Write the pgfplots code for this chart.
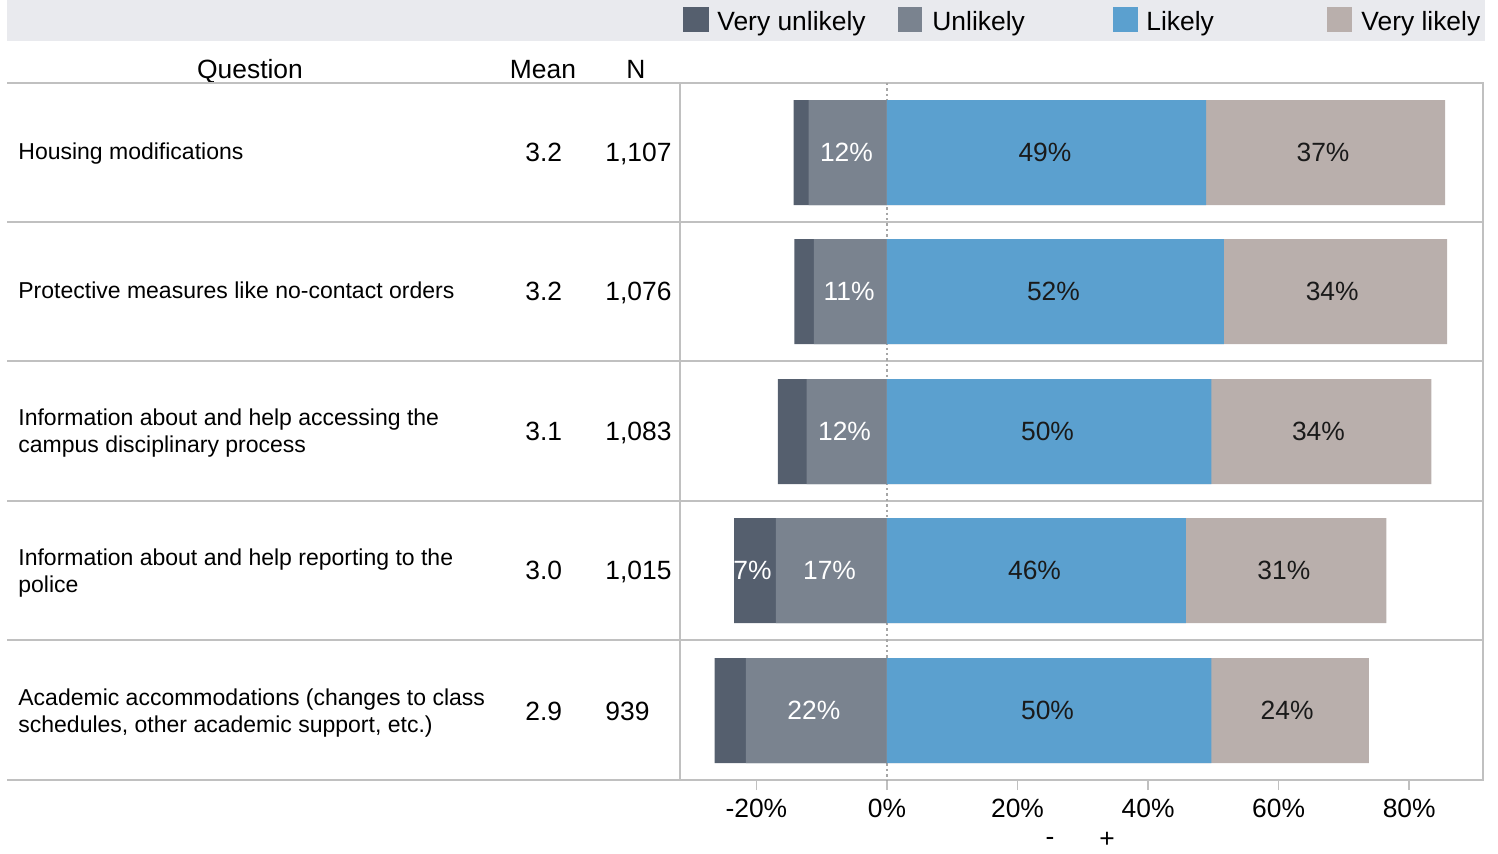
\documentclass[border=0pt]{standalone}
\usepackage{fontspec}
\setmainfont{Liberation Sans}
\usepackage{pgfplots}
\pgfplotsset{compat=1.18}
\usepackage{pgfplotstable}
\definecolor{cVU}{RGB}{85,95,110}
\definecolor{cU}{RGB}{122,131,143}
\definecolor{cL}{RGB}{91,160,207}
\definecolor{cVL}{RGB}{185,175,172}
\definecolor{band}{RGB}{233,234,238}
\definecolor{rulec}{RGB}{192,192,192}
\definecolor{dark}{RGB}{26,26,26}

\pgfplotstableread{
y VU U L VL
152.5 2.3 12.0 48.9 36.6
291.5 3.0 11.2 51.6 34.2
431.5 4.4 12.3 49.7 33.7
570.5 6.4 17.0 45.8 30.7
710.5 4.8 21.6 49.7 24.1
}\data

\newcommand{\fbig}{\fontsize{13.2}{16}\selectfont}
\newcommand{\fsm}{\fontsize{11.5}{13.5}\selectfont}

\begin{document}
\begin{tikzpicture}
\begin{scope}[x=0.5pt,y=-0.5pt]
\useasboundingbox (0,0) rectangle (1498,854);
% legend band
\fill[band] (7,0) rectangle (1485,41);
\fill[cVU] (683,7) rectangle (709,32);
\fill[cU] (898,7) rectangle (922,32);
\fill[cL] (1113,7) rectangle (1138,32);
\fill[cVL] (1327,7) rectangle (1352,32);
\node[anchor=base west,inner sep=0,font=\fbig] at (717,30.5) {Very unlikely};
\node[anchor=base west,inner sep=0,font=\fbig] at (932,30.5) {Unlikely};
\node[anchor=base west,inner sep=0,font=\fbig] at (1146,30.5) {Likely};
\node[anchor=base west,inner sep=0,font=\fbig] at (1361,30.5) {Very likely};
% headers
\node[anchor=base,inner sep=0,font=\fbig] at (250,78.5) {Question};
\node[anchor=base,inner sep=0,font=\fbig] at (543,78.5) {Mean};
\node[anchor=base,inner sep=0,font=\fbig] at (636,78.5) {N};
% rules
\draw[rulec,line width=1pt] (7,83) -- (1483,83);
\foreach \yy in {222,361,501,640} {\draw[rulec,line width=1pt] (7,\yy) -- (1483,\yy);}
\draw[rulec,line width=1.2pt] (7,780) -- (680,780);
\draw[rulec,line width=0.8pt] (680,83) -- (680,780);
\draw[rulec,line width=0.8pt] (1483,83) -- (1483,780);
% questions
\node[anchor=base west,inner sep=0,font=\fsm] at (18,160) {Housing modifications};
\node[anchor=base west,inner sep=0,font=\fsm] at (18,299) {Protective measures like no-contact orders};
\node[anchor=base west,inner sep=0,font=\fsm] at (18,426) {Information about and help accessing the};
\node[anchor=base west,inner sep=0,font=\fsm] at (18,453) {campus disciplinary process};
\node[anchor=base west,inner sep=0,font=\fsm] at (18,566) {Information about and help reporting to the};
\node[anchor=base west,inner sep=0,font=\fsm] at (18,593) {police};
\node[anchor=base west,inner sep=0,font=\fsm] at (18,705) {Academic accommodations (changes to class};
\node[anchor=base west,inner sep=0,font=\fsm] at (18,732) {schedules, other academic support, etc.)};
% mean and N
\foreach \yy/\m/\n in {162/3.2/{1,107},301/3.2/{1,076},441/3.1/{1,083},580/3.0/{1,015},720/2.9/939} {
  \node[anchor=base west,inner sep=0,font=\fbig] at (525,\yy) {\m};
  \node[anchor=base west,inner sep=0,font=\fbig] at (605,\yy) {\n};
}
\node[font=\fbig,inner sep=0] at (1050,841) {-};
\node[font=\fbig,inner sep=0] at (1107,840) {+};
\end{scope}
\begin{axis}[at={(340pt,-390pt)}, anchor=south west,
  width=401.5pt, height=348.5pt, scale only axis,
  xmin=-31.7, xmax=91.3, ymin=83, ymax=780, y dir=reverse,
  xbar, bar shift=0pt, bar width=52.5pt,
  ytick=\empty, xtick={-20,0,20,40,60,80},
  xticklabels={-20\%,0\%,20\%,40\%,60\%,80\%},
  xtick pos=bottom, tick align=outside, major tick length=5pt,
  axis line style={rulec,line width=0.8pt},
  tick style={rulec,line width=0.8pt},
  xticklabel style={font=\fbig,text=black,yshift=-1pt},
  clip=false]
\draw[gray!70,line width=0.7pt,dash pattern=on 1.2pt off 1.5pt] (axis cs:0,83) -- (axis cs:0,780);
\addplot[fill=cVU,draw=none] table[x expr=-\thisrow{VU}-\thisrow{U},y=y] {\data};
\addplot[fill=cU,draw=none] table[x expr=-\thisrow{U},y=y] {\data};
\addplot[fill=cVL,draw=none] table[x expr=\thisrow{L}+\thisrow{VL},y=y] {\data};
\addplot[fill=cL,draw=none] table[x=L,y=y] {\data};
\tikzset{wl/.style={font=\fbig,text=white,inner sep=0},dl/.style={font=\fbig,text=dark,inner sep=0}}
\node[wl] at (axis cs:-6.2,152.5) {12\%};
\node[dl] at (axis cs:24.2,152.5) {49\%};
\node[dl] at (axis cs:66.8,152.5) {37\%};
\node[wl] at (axis cs:-5.8,291.5) {11\%};
\node[dl] at (axis cs:25.5,291.5) {52\%};
\node[dl] at (axis cs:68.2,291.5) {34\%};
\node[wl] at (axis cs:-6.5,431.5) {12\%};
\node[dl] at (axis cs:24.6,431.5) {50\%};
\node[dl] at (axis cs:66.1,431.5) {34\%};
\node[wl] at (axis cs:-20.6,570.5) {7\%};
\node[wl] at (axis cs:-8.8,570.5) {17\%};
\node[dl] at (axis cs:22.6,570.5) {46\%};
\node[dl] at (axis cs:60.8,570.5) {31\%};
\node[wl] at (axis cs:-11.2,710.5) {22\%};
\node[dl] at (axis cs:24.6,710.5) {50\%};
\node[dl] at (axis cs:61.3,710.5) {24\%};
\end{axis}
\end{tikzpicture}
\end{document}
